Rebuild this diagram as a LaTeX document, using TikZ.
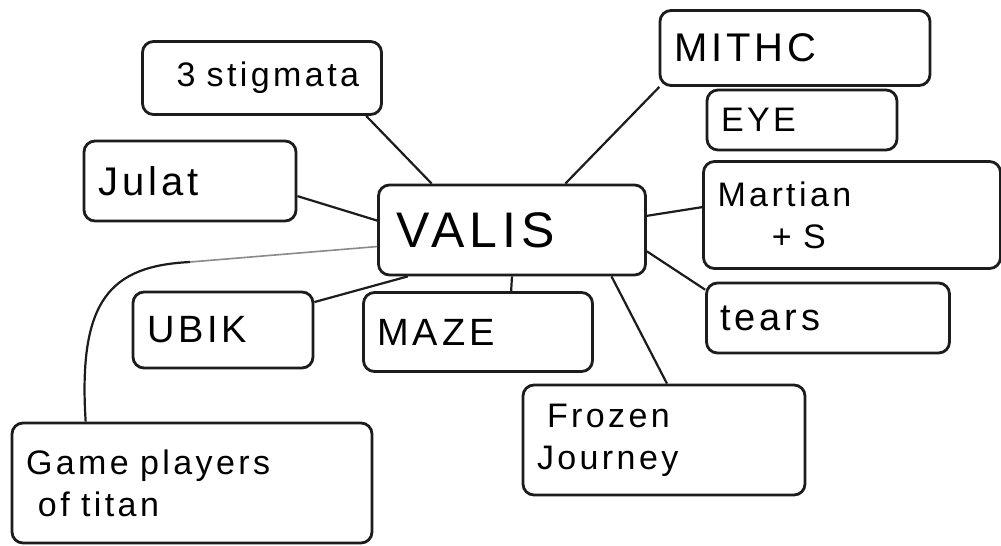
\documentclass[tikz,border=0pt]{standalone}
\usepackage{fontspec}
\setmainfont{Liberation Sans}[LetterSpace=10]
\usetikzlibrary{calc}
\definecolor{murekkep}{HTML}{1C1C1C}
\definecolor{soluk}{HTML}{8A8A8A}

\begin{document}
\begin{tikzpicture}[x=1pt,y=-1pt,
  kitap/.style={draw=murekkep,line width=2.8pt,rounded corners=11pt,inner xsep=14pt,inner ysep=0pt,align=left,font=\fontsize{34}{42}\selectfont},
  bag/.style={murekkep,line width=2.2pt}]
\fill[white] (0,0) rectangle (1001,546);
\useasboundingbox (0,0) rectangle (1001,546);
% the centre
\node[kitap,text width=239pt,minimum height=90pt,font=\fontsize{50}{56}\selectfont] (valis) at (512,230) {\hspace*{4pt}VALIS};
% the books round it
\node[kitap,text width=211pt,minimum height=73pt] (stig) at (262,78) {\hspace*{20pt}3 stigmata};
\node[kitap,text width=184pt,minimum height=80pt,font=\fontsize{40}{46}\selectfont] (julat) at (190,181) {Julat};
\node[kitap,text width=242pt,minimum height=75pt,font=\fontsize{40}{46}\selectfont] (mithc) at (795,48) {MITHC};
\node[kitap,text width=162pt,minimum height=60pt] (eye) at (802,120) {EYE};
\node[kitap,text width=269pt,minimum height=107pt] (martian) at (852,215) {Martian\\\hspace*{1.6em}+ S};
\node[kitap,text width=215pt,minimum height=70pt,font=\fontsize{38}{44}\selectfont] (tears) at (828,318) {tears};
\node[kitap,text width=254pt,minimum height=110pt] (frozen) at (664,440) {\hspace*{10pt}Frozen\\Journey};
\node[kitap,text width=201pt,minimum height=79pt,font=\fontsize{38}{44}\selectfont] (maze) at (478,332) {MAZE};
\node[kitap,text width=152pt,minimum height=76pt,font=\fontsize{38}{44}\selectfont] (ubik) at (223,330) {UBIK};
\node[kitap,text width=332pt,minimum height=120pt] (game) at (192,483) {Game players\\\hspace*{12pt}of titan};
% links
\draw[bag] (stig.-20) -- (valis.150);
\draw[bag] (julat.-8) -- (valis.176);
\draw[bag] (mithc.196) -- (valis.41);
\draw[bag] (martian.177) -- (valis.6);
\draw[bag] (valis.-9) -- (tears.167);
\draw[bag] (valis.-25) -- (frozen.87);
\draw[bag] (valis.south) -- (maze.51);
\draw[bag] (valis.204) -- (ubik.17);
\coordinate (donus) at (190,262);
\draw[bag] (game.150) .. controls (78,300) and (110,266) .. (donus);
\draw[soluk,line width=1.6pt] (donus) -- (valis.187);
\end{tikzpicture}
\end{document}
